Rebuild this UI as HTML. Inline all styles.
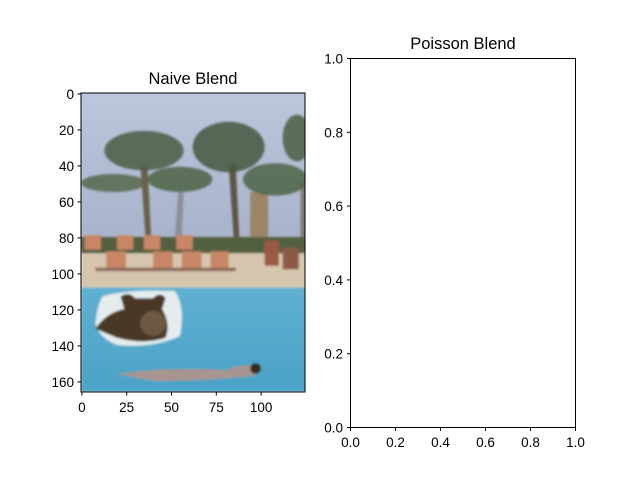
<!DOCTYPE html>
<html><head><meta charset="utf-8"><style>
body{margin:0;background:#fff}
svg text{font-family:"Liberation Sans","DejaVu Sans",sans-serif;fill:#000}
</style></head><body>
<svg width="640" height="480" viewBox="0 0 640 480">
<defs>
<clipPath id="imgclip"><rect x="0" y="0" width="124.5" height="166"/></clipPath>
<linearGradient id="sky" x1="0" y1="0" x2="0" y2="1"><stop offset="0" stop-color="#bcc6dc"/><stop offset="1" stop-color="#a7b3cb"/></linearGradient>
<linearGradient id="pool" x1="0" y1="0" x2="0" y2="1"><stop offset="0" stop-color="#5fb0d2"/><stop offset="1" stop-color="#4aa2c6"/></linearGradient>
<filter id="blur"><feGaussianBlur stdDeviation="0.6"/></filter>
</defs>
<rect width="640" height="480" fill="#fff"/>
<g id="left">
<text x="193" y="84" font-size="16.5" text-anchor="middle">Naive Blend</text>
<g transform="translate(81,93) scale(1.8,1.8)" clip-path="url(#imgclip)">
<rect x="0" y="0" width="125" height="85" fill="url(#sky)"/>
<g filter="url(#blur)">
<path d="M33,40 L36,82 L39,82 L37,40Z" fill="#6b5e4a"/>
<path d="M54,55 L52,82 L56,82 L57,55Z" fill="#8a8f95"/>
<path d="M82,40 L85,82 L88,82 L86,40Z" fill="#5e5445"/>
<rect x="94" y="55" width="10" height="35" fill="#9c8466"/>
<rect x="122" y="50" width="3" height="32" fill="#7d7a70"/>
<g opacity="0.85">
<ellipse cx="35" cy="32" rx="22" ry="11" fill="#4a5f44"/>
<ellipse cx="18" cy="50" rx="18" ry="5" fill="#55694e"/>
<ellipse cx="55" cy="48" rx="18" ry="7" fill="#4e6347"/>
<ellipse cx="82" cy="30" rx="20" ry="14" fill="#45593f"/>
<ellipse cx="108" cy="48" rx="18" ry="9" fill="#4e6445"/>
<ellipse cx="120" cy="25" rx="8" ry="13" fill="#4c6046"/>
</g>
<rect x="0" y="80" width="125" height="12" fill="#52603f"/>
<rect x="0" y="89" width="125" height="19" fill="#d6c6ae"/>
<g fill="#c98666">
<rect x="2" y="79" width="9" height="8"/><rect x="20" y="79" width="9" height="8"/><rect x="35" y="79" width="9" height="8"/><rect x="53" y="79" width="9" height="8"/>
<rect x="14" y="88" width="11" height="9"/><rect x="40" y="88" width="11" height="9"/><rect x="56" y="88" width="11" height="9"/><rect x="72" y="88" width="10" height="9"/>
<rect x="102" y="82" width="8" height="14" fill="#9a5a44"/><rect x="112" y="86" width="9" height="12" fill="#8a5a46"/>
</g>
<rect x="8" y="97" width="78" height="2" fill="#8c6a55"/>
<rect x="0" y="108" width="125" height="58" fill="url(#pool)"/>
<path d="M12,113 Q25,109 52,110 Q58,118 55,135 Q40,142 20,140 Q10,136 8,128 Q9,118 12,113Z" fill="#e4ecee"/>
<path d="M8,131 Q14,122 24,120 L22,113 Q27,110 30,114 L40,114 Q44,110 47,114 L45,120 Q50,128 47,136 Q35,140 20,136 Z" fill="#4a3828"/>
<ellipse cx="40" cy="128" rx="7" ry="7" fill="#6e5843"/>
<path d="M20,156 Q50,152 80,154 Q90,150 98,152 L97,157 Q70,160 40,160 Z" fill="#a8948e"/>
<ellipse cx="97" cy="153" rx="3" ry="3" fill="#3a2a22"/>
</g>
</g>
<rect x="81" y="93" width="224" height="299" fill="none" stroke="#000" stroke-width="1"/>
<g id="lxt"></g>
<g id="lyt"></g>
</g>
<g>
<text x="463" y="49" font-size="16.5" text-anchor="middle">Poisson Blend</text>
<rect x="350.5" y="58.5" width="225" height="369" fill="#fff" stroke="#000" stroke-width="1"/>
<g id="rxt"></g>
<g id="ryt"></g>
</g>
</svg>
<script>
const leftXTicks=[0,25,50,75,100];
const leftYTicks=[0,20,40,60,80,100,120,140,160];
const rightTicks=[0.0,0.2,0.4,0.6,0.8,1.0];
const NS="http://www.w3.org/2000/svg";
function mk(p,tag,a,txt){const e=document.createElementNS(NS,tag);for(const k in a)e.setAttribute(k,a[k]);if(txt!==undefined)e.textContent=txt;p.appendChild(e);return e;}
const lx=v=>81+(v+0.5)*1.792, ly=v=>93+(v+0.5)*1.8;
const rx=v=>350.5+v*225, ry=v=>427.5-v*369;
const lxt=document.getElementById('lxt'),lyt=document.getElementById('lyt'),rxt=document.getElementById('rxt'),ryt=document.getElementById('ryt');
leftXTicks.forEach(v=>{const x=lx(v);
const t=mk(lxt,'line',{x1:x,x2:x,y1:392,y2:395.5,stroke:'#000'});


const l=mk(lxt,'text',{x:x,y:412,'font-size':'13.5','text-anchor':'middle'},String(v));

});
leftYTicks.forEach(v=>{const y=ly(v);
const t=mk(lyt,'line',{x1:77.5,x2:81,y1:y,y2:y,stroke:'#000'});


const l=mk(lyt,'text',{x:74,y:y+5,'font-size':'13.5','text-anchor':'end'},String(v));

});
rightTicks.forEach(v=>{const x=rx(v),y=ry(v);
const t=mk(rxt,'line',{x1:x,x2:x,y1:427.5,y2:431,stroke:'#000'});


const l=mk(rxt,'text',{x:x,y:447,'font-size':'13.5','text-anchor':'middle'},v.toFixed(1));


const t2=mk(ryt,'line',{x1:347,x2:350.5,y1:y,y2:y,stroke:'#000'});


const l2=mk(ryt,'text',{x:343,y:y+5,'font-size':'13.5','text-anchor':'end'},v.toFixed(1));

});
</script>
</body></html>
